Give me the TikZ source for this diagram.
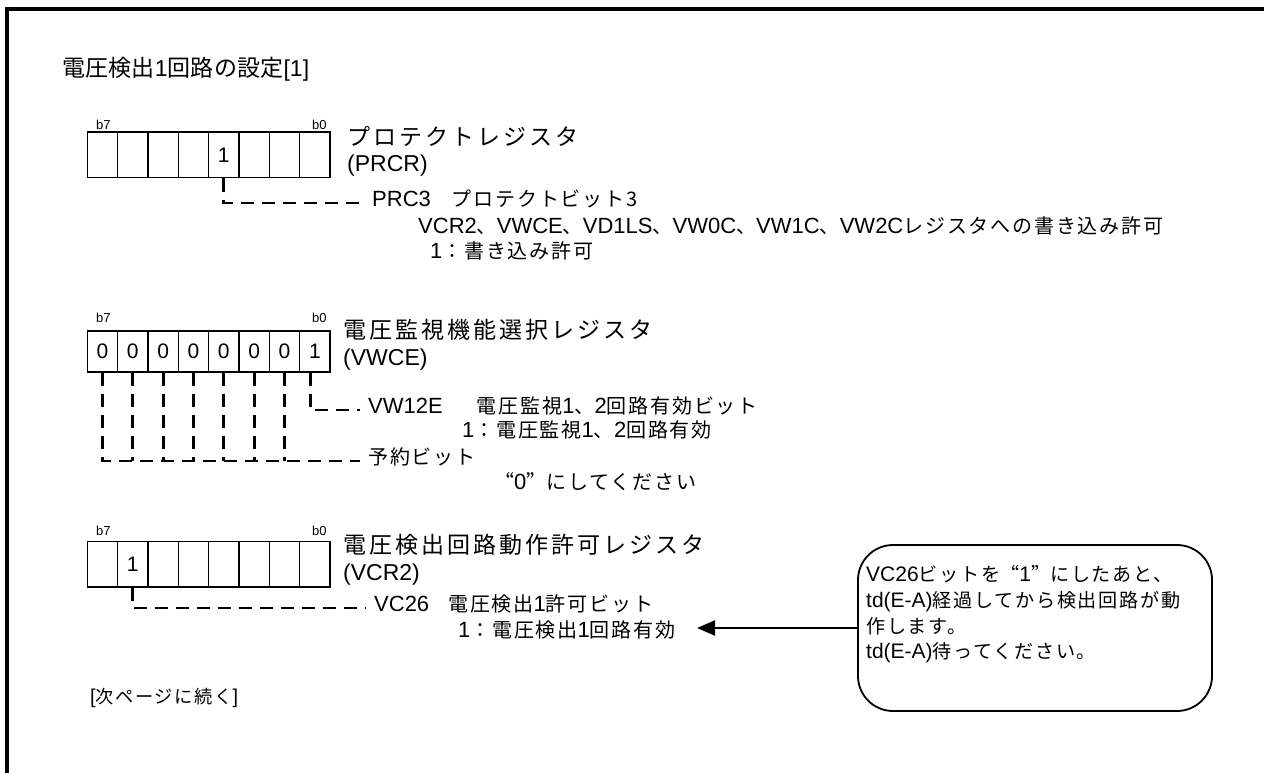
\documentclass[tikz,border=0pt]{standalone}
\usepackage{fontspec}
\setmainfont{Liberation Sans}
\newfontfamily\jpA{Noto Sans CJK JP}[LetterSpace=1]
\newfontfamily\jpB{Noto Sans CJK JP}[LetterSpace=13]
\newfontfamily\jpC{Noto Sans CJK JP}[Scale=0.91, LetterSpace=9]
\newfontfamily\jpQ{Noto Sans CJK JP}[Scale=0.91, RawFeature=+fwid]
\newcommand\JA[1]{{\jpA #1}}
\newcommand\JB[1]{{\jpB #1}}
\newcommand\JC[1]{{\jpC #1}}
\newcommand\JQ[1]{{\jpQ #1}}
\usetikzlibrary{arrows.meta}
\begin{document}
\begin{tikzpicture}[x=1pt,y=-1pt,
  cell/.style={draw, line width=1.6pt, minimum width=30.34pt, inner sep=0pt,
    font=\fontsize{21}{21}\selectfont},
  bitlab/.style={inner sep=0pt, font=\fontsize{13}{13}\selectfont},
  txt/.style={anchor=west, inner sep=0pt, text height=0.74em, text depth=0pt},
  headline/.style={txt, font=\fontsize{23}{23}\selectfont},
  regname/.style={txt, font=\fontsize{23}{23}\selectfont},
  desc/.style={txt, font=\fontsize{22}{22}\selectfont},
  note/.style={txt, font=\fontsize{21}{21}\selectfont},
  foot/.style={txt, font=\fontsize{20}{20}\selectfont},
  dl/.style={line width=2.8pt, dash pattern=on 13pt off 8pt},
  frameline/.style={line width=3.5pt},
  callout/.style={draw, line width=1.8pt, rounded corners=35pt,
    minimum width=354pt, minimum height=166pt, inner sep=0pt},
  arr/.style={line width=2pt, -{Triangle[length=18pt,width=15pt]}}
]
\useasboundingbox (0,0) rectangle (1264,773);
% frame
\draw[frameline] (7,773) -- (7,9) -- (1264,9);

% title
\node[headline] (head) at (62,73) {\JA{電圧検出}1\JA{回路の設定}[1]};

% ---------- PRCR ----------
\foreach \i in {0,...,7}{
  \node[cell, minimum height=45.4pt] (pr\i) at ({87.3+30.34*(\i+0.5)},155) {};
}
\node[font=\fontsize{21}{21}\selectfont, inner sep=0pt] (prone) at (pr4) {1};
\node[bitlab] (prb7) at (103.3,125) {b7};
\node[bitlab] (prb0) at (319.3,125) {b0};
\node[regname] (prname) at (347,142) {\JB{プロテクトレジスタ}};
\node[regname] (prabbr) at (347,168) {(PRCR)};
\node[desc] (prc3) at (372,203) {PRC3\hspace{21pt}\JC{プロテクトビット3}};
\node[desc] (prc3a) at (418,230) {VCR2\JC{、}VWCE\JC{、}VD1LS\JC{、}VW0C\JC{、}VW1C\JC{、}VW2C\JC{レジスタへの書き込み許可}};
\node[desc] (prc3b) at (430,255) {1\JC{：書き込み許可}};
\draw[dl] (pr4.south) |- ([xshift=-7pt]prc3.west);

% ---------- VWCE ----------
\foreach \i/\v in {0/0,1/0,2/0,3/0,4/0,5/0,6/0,7/1}{
  \node[cell, minimum height=41pt] (w\i) at ({87.3+30.34*(\i+0.5)},351.5) {\v};
}
\node[bitlab] (wb7) at (103.3,318.3) {b7};
\node[bitlab] (wb0) at (319.3,318.3) {b0};
\node[regname] (wname) at (343,335) {\JB{電圧監視機能選択レジスタ}};
\node[regname] (wabbr) at (343,362) {(VWCE)};
\node[desc] (vw12e) at (368,410) {VW12E\hspace{34pt}\JC{電圧監視}1\JC{、}2\JC{回路有効ビット}};
\node[desc] (vw12ea) at (462,434) {1\JC{：電圧監視}1\JC{、}2\JC{回路有効}};
\node[desc] (resv) at (368,461) {\JC{予約ビット}};
\node[desc] (resva) at (494,486) {\JQ{“}0\JQ{”}\JC{にしてください}};
\draw[dl] ([xshift=-4.7pt]w7.south) |- ([xshift=-8pt]vw12e.west);
\draw[dl] (w0.south) |- ([xshift=-8pt]resv.west);
\foreach \i in {1,...,6}{
  \draw[dl] (w\i.south) -- (w\i.south |- resv.west);
}

% ---------- VCR2 ----------
\foreach \i in {0,...,7}{
  \node[cell, minimum height=45.3pt] (v\i) at ({87.3+30.34*(\i+0.5)},564.3) {};
}
\node[font=\fontsize{21}{21}\selectfont, inner sep=0pt] (vone) at (v1) {1};
\node[bitlab] (vb7) at (103.3,530.7) {b7};
\node[bitlab] (vb0) at (319.3,530.7) {b0};
\node[regname] (vname) at (343,550) {\JB{電圧検出回路動作許可レジスタ}};
\node[regname] (vabbr) at (343,577) {(VCR2)};
\node[desc] (vc26) at (374,608) {VC26\hspace{19pt}\JC{電圧検出}1\JC{許可ビット}};
\node[desc] (vc26a) at (458,634) {1\JC{：電圧検出}1\JC{回路有効}};
\draw[dl] (v1.south) |- ([xshift=-8pt]vc26.west);

% ---------- callout ----------
\node[callout] (cb) at (1035,628) {};
\node[note] (cb1) at (866,578) {VC26\JC{ビットを}\JQ{“}1\JQ{”}\JC{にしたあと、}};
\node[note] (cb2) at (866,604) {td(E-A)\JC{経過してから検出回路が動}};
\node[note] (cb3) at (866,630) {\JC{作します。}};
\node[note] (cb4) at (866,655) {td(E-A)\JC{待ってください。}};
\coordinate (atip) at (697,628);
\draw[arr] (cb.west) -- (atip);

% footer
\node[foot] (cont) at (90,700) {[\JC{次ページに続く}]};
\end{tikzpicture}
\end{document}
